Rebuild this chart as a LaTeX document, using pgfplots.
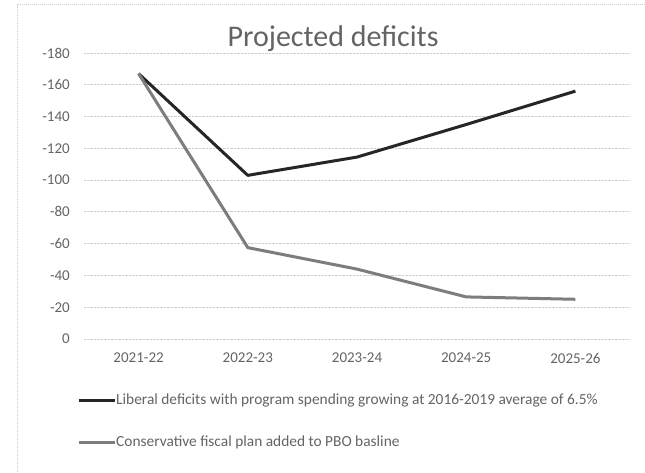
\documentclass[border=0pt]{standalone}
\usepackage{pgfplots}
\pgfplotsset{compat=1.18}
\usepackage{fontspec}
\setmainfont{Carlito}
\definecolor{txt}{RGB}{100,100,100}
\definecolor{lib}{RGB}{38,38,38}
\definecolor{con}{RGB}{125,125,125}
\definecolor{gridc}{RGB}{205,205,205}
\begin{document}
\begin{tikzpicture}[x=1pt,y=1pt]
\useasboundingbox (0,0) rectangle (645,472);
\fill[white] (0,0) rectangle (645,472);
\draw[gridc, densely dotted, line width=1pt] (17,-20) -- (17,467) -- (680,467);
\begin{axis}[
  at={(84pt,133pt)}, anchor=south west,
  scale only axis, width=546pt, height=286pt,
  xmin=-0.5, xmax=4.5,
  ymin=-180, ymax=0, y dir=reverse,
  ytick={-180,-160,...,0},
  xtick={0,1,2,3,4},
  xticklabels={2021-22,2022-23,2023-24,2024-25,2025-26},
  axis line style={draw=none},
  major tick length=0pt,
  ymajorgrids,
  grid style={gridc, densely dotted, line width=0.8pt},
  tick label style={font=\fontsize{15}{18}\selectfont, color=txt, inner sep=0pt},
  yticklabel style={xshift=-14pt},
  xticklabel style={yshift=-14pt},
  /pgf/number format/assume math mode=true,
  legend style={at={(-0.0128,-0.178)}, anchor=north west, draw=none, fill=none,
    inner sep=0pt, row sep=22pt,
    nodes={inner sep=0pt, minimum height=20pt, anchor=west, font=\fontsize{15.4}{18}\selectfont, text=txt},
    /tikz/column 2/.style={column sep=2pt}},
  legend cell align=left,
  legend image code/.code={\draw[#1] (0pt,0pt) -- (36pt,0pt);},
]
\addplot[lib, line width=3pt, line join=round] coordinates {(0,-167) (1,-103) (2,-114.5) (3,-135) (4,-156)};
\addlegendentry{Liberal deficits with program spending growing at 2016-2019 average of 6.5\%}
\addplot[con, line width=3pt, line join=round] coordinates {(0,-167) (1,-57.5) (2,-44) (3,-26.5) (4,-25)};
\addlegendentry{Conservative fiscal plan added to PBO basline}
\end{axis}
\node[anchor=base, font=\fontsize{30}{36}\selectfont, text=txt, inner sep=0pt] at (333,425) {Projected deficits};
\end{tikzpicture}
\end{document}
